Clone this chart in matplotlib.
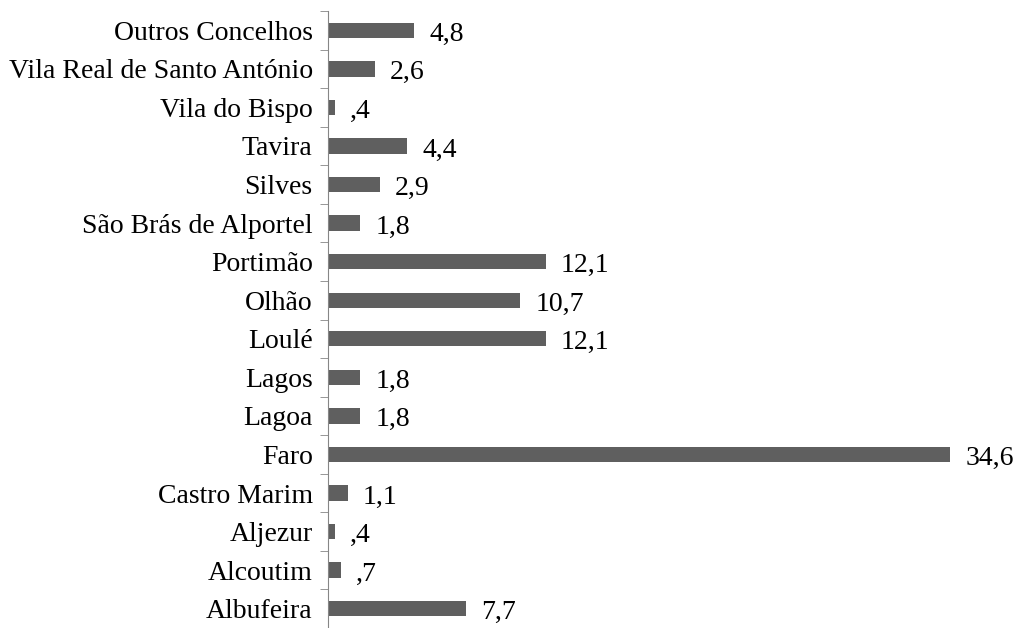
import matplotlib
matplotlib.use("Agg")
import matplotlib.pyplot as plt
import numpy as np

categories = ["Albufeira", "Alcoutim", "Aljezur", "Castro Marim", "Faro", "Lagoa",
              "Lagos", "Loulé", "Olhão", "Portimão", "São Brás de Alportel", "Silves",
              "Tavira", "Vila do Bispo", "Vila Real de Santo António", "Outros Concelhos"]
values = [7.7, 0.7, 0.4, 1.1, 34.6, 1.8, 1.8, 12.1, 10.7, 12.1, 1.8, 2.9, 4.4, 0.4, 2.6, 4.8]

plt.rcParams['font.family'] = ['Liberation Serif', 'DejaVu Serif']

fig = plt.figure(figsize=(10.16, 6.28), dpi=100)
ax = fig.add_axes([328/1016, 0, (1000-328)/1016, 617/628])

y = np.arange(len(categories))
ax.barh(y, values, height=0.4, color="#5f5f5f")
ax.set_xlim(0, 672/17.98)
ax.set_ylim(-0.5, 15.5)

def fmt(v):
    s = f"{v:.1f}".replace(".", ",")
    if s.startswith("0"):
        s = s[1:]
    return s

for yi, v in zip(y, values):
    ax.annotate(fmt(v), (v, yi), xytext=(15, -1), textcoords="offset pixels",
                va="center_baseline", ha="left", fontsize=20)

for s in ["top", "right", "bottom"]:
    ax.spines[s].set_visible(False)
ax.spines["left"].set_color("#868686")
ax.set_xticks([])
ax.set_yticks(y)
ax.set_yticklabels(categories, fontsize=20)
ax.tick_params(axis="y", which="major", length=0, pad=11)
ax.set_yticks(np.arange(-0.5, 16, 1), minor=True)
ax.tick_params(axis="y", which="minor", length=6, color="#868686", direction="out")

fig.savefig("out.png", dpi=100)
